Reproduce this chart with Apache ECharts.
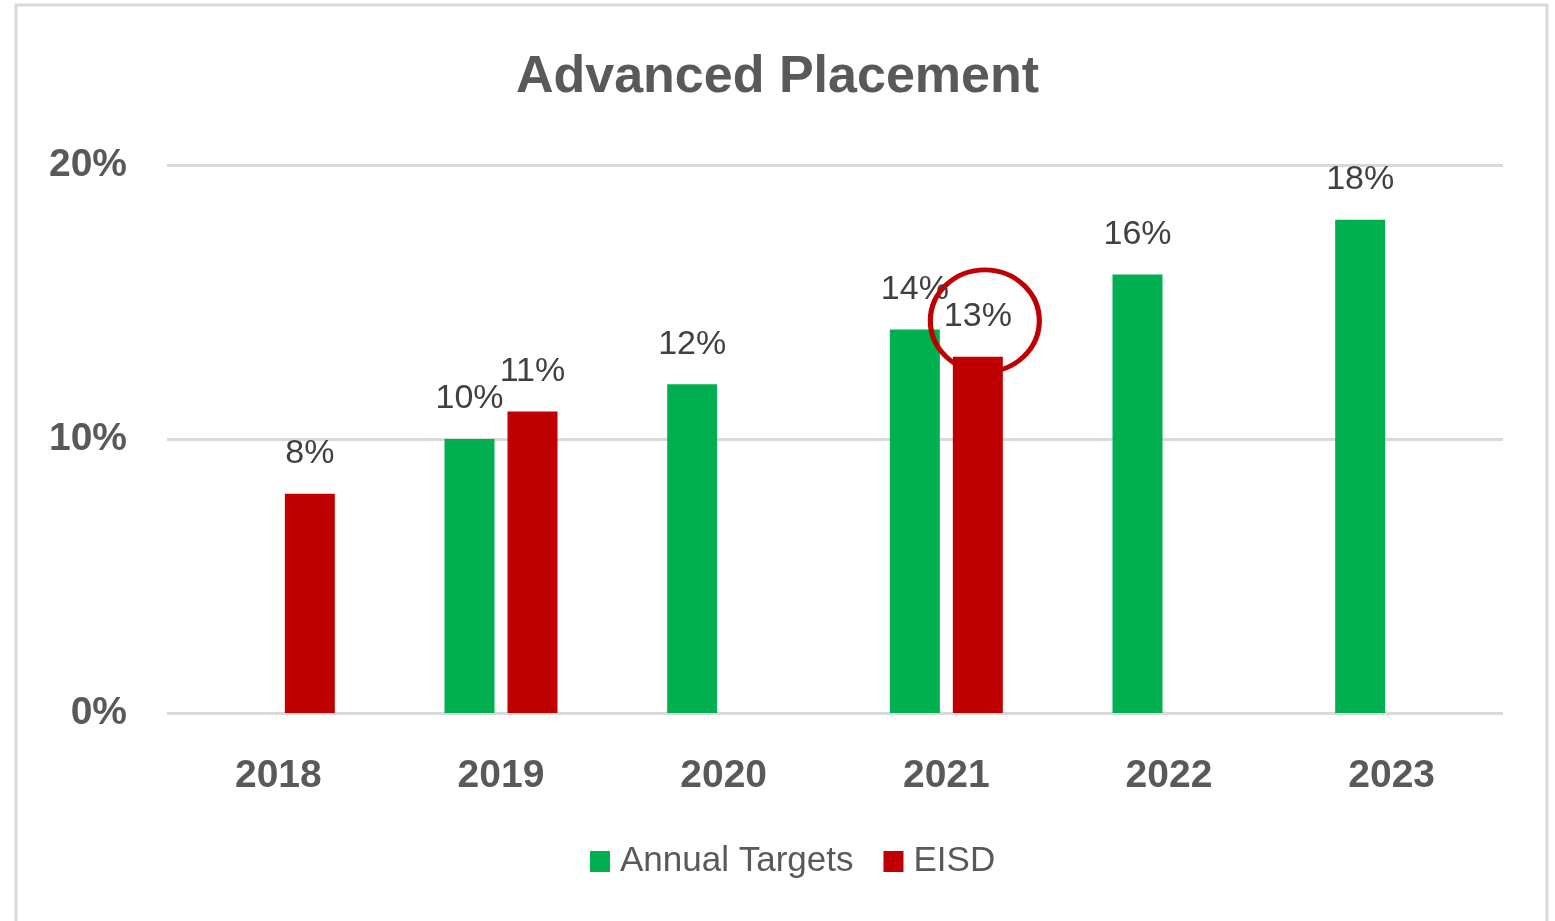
<!DOCTYPE html>
<html>
<head>
<meta charset="utf-8">
<script src="https://cdn.jsdelivr.net/npm/echarts@6/dist/echarts.min.js"></script>
<style>
  html, body { margin: 0; padding: 0; background: #fff; }
  #main { width: 1555px; height: 921px; }
</style>
</head>
<body>
<div id="main"></div>
<script>
var years = ['2018', '2019', '2020', '2021', '2022', '2023'];
var targets = [null, 10, 12, 14, 16, 18];   // Annual Targets
var eisd = [8, 11, null, 13, null, null];    // EISD
var yTicks = [0, 10, 20];

var font = 'Liberation Sans';
var chart = echarts.init(document.getElementById('main'));

var option = {
  backgroundColor: '#fff',
  textStyle: { fontFamily: font },
  graphic: [
    {
      type: 'rect',
      shape: { x: 16, y: 5, width: 1531, height: 940 },
      style: { fill: 'none', stroke: '#d9d9d9', lineWidth: 3 },
      silent: true
    }
  ],
  title: {
    text: 'Advanced Placement',
    left: 'center',
    top: 47,
    textStyle: { fontFamily: font, fontSize: 52, fontWeight: 'bold', color: '#595959' }
  },
  legend: {
    bottom: 37,
    left: 585,
    itemWidth: 20,
    itemHeight: 21,
    itemGap: 30,
    icon: 'rect',
    data: ['Annual Targets', 'EISD'],
    textStyle: { fontFamily: font, fontSize: 35, color: '#595959', padding: [0, 0, 0, 5] }
  },
  grid: { left: 167, right: 52, top: 165, bottom: 208 },
  xAxis: {
    type: 'category',
    data: years,
    axisLine: { show: false },
    axisTick: { show: false },
    axisLabel: { margin: 44, fontFamily: font, fontSize: 39, fontWeight: 'bold', color: '#595959' }
  },
  yAxis: {
    type: 'value',
    min: yTicks[0],
    max: yTicks[yTicks.length - 1],
    interval: yTicks[1] - yTicks[0],
    axisLine: { show: false },
    axisTick: { show: false },
    axisLabel: {
      margin: 40,
      formatter: '{value}%',
      fontFamily: font, fontSize: 39, fontWeight: 'bold', color: '#595959'
    },
    splitLine: { lineStyle: { color: '#d9d9d9', width: 3 } }
  },
  series: [
    {
      name: 'Annual Targets',
      type: 'bar',
      data: targets,
      barWidth: 50,
      barGap: '26%',
      itemStyle: { color: '#00b050' },
      label: {
        show: true, position: 'top', distance: 23,
        formatter: '{c}%',
        fontFamily: font, fontSize: 34, color: '#404040'
      }
    },
    {
      name: 'EISD',
      type: 'bar',
      data: eisd,
      barWidth: 50,
      barGap: '26%',
      itemStyle: { color: '#c00000' },
      label: {
        show: true, position: 'top', distance: 23,
        formatter: '{c}%',
        fontFamily: font, fontSize: 34, color: '#404040'
      },
      markPoint: {
        silent: true,
        symbol: 'circle',
        symbolSize: [109, 102],
        symbolOffset: [7, -36],
        itemStyle: { color: 'rgba(0,0,0,0)', borderColor: '#c00000', borderWidth: 5 },
        label: { show: false },
        data: [{ coord: ['2021', 13] }]
      }
    }
  ]
};

chart.setOption(option);
</script>
</body>
</html>
